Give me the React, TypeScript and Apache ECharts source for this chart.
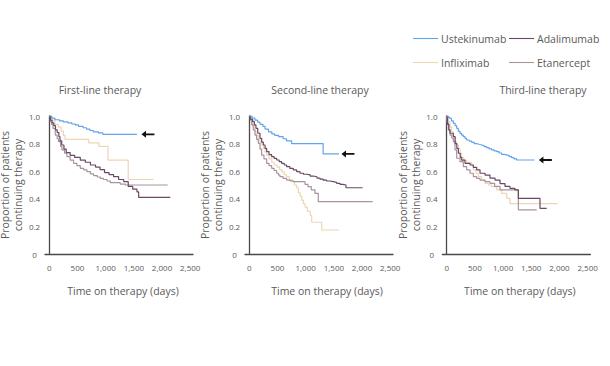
import React, { useEffect, useRef } from "react";
import * as echarts from "echarts";

// ---------- data (days, proportion continuing) ----------
const PANEL_TITLES = ["First-line therapy", "Second-line therapy", "Third-line therapy"];
const DRUGS = ["Ustekinumab", "Adalimumab", "Infliximab", "Etanercept"];
const DAY_TICKS = [0, 500, 1000, 1500, 2000, 2500];
const ARROW_DAY = 1750;

const firstUst = [[0,1],[40,0.985],[100,0.973],[180,0.965],[250,0.957],[330,0.95],[400,0.942],[460,0.935],[520,0.925],[600,0.915],[660,0.905],[720,0.895],[780,0.885],[870,0.877],[950,0.867],[1555,0.867]];
const firstAda = [[0,1],[20,0.97],[50,0.95],[80,0.93],[110,0.9],[140,0.88],[170,0.85],[190,0.82],[220,0.79],[260,0.76],[300,0.735],[370,0.715],[450,0.7],[550,0.68],[640,0.665],[730,0.645],[820,0.63],[900,0.612],[980,0.59],[1060,0.575],[1140,0.56],[1230,0.54],[1320,0.525],[1400,0.49],[1480,0.47],[1555,0.45],[1585,0.41],[2146,0.41]];
const firstInf = [[0,1],[50,0.97],[100,0.94],[160,0.92],[210,0.89],[250,0.86],[280,0.83],[700,0.805],[880,0.78],[1040,0.68],[1400,0.54],[1850,0.54]];
const firstEta = [[0,1],[20,0.96],[40,0.94],[65,0.91],[106,0.862],[140,0.835],[165,0.814],[200,0.78],[225,0.754],[270,0.73],[313,0.705],[370,0.68],[431,0.657],[490,0.64],[550,0.621],[610,0.61],[668,0.597],[730,0.58],[786,0.568],[850,0.558],[905,0.548],[960,0.54],[1023,0.529],[1082,0.517],[1259,0.507],[1350,0.5],[2100,0.5]];

const secondUst = [[0,1],[50,0.985],[100,0.97],[150,0.955],[190,0.94],[240,0.925],[280,0.905],[340,0.885],[400,0.87],[450,0.86],[520,0.85],[600,0.835],[660,0.82],[750,0.8],[1310,0.725],[1590,0.725]];
const secondAda = [[0,1],[25,0.975],[59,0.959],[90,0.935],[118,0.911],[150,0.875],[190,0.838],[220,0.81],[249,0.79],[280,0.765],[308,0.742],[350,0.72],[397,0.705],[440,0.693],[485,0.681],[530,0.67],[574,0.657],[620,0.645],[663,0.633],[720,0.62],[781,0.609],[840,0.597],[899,0.585],[960,0.578],[1017,0.573],[1080,0.565],[1136,0.56],[1200,0.55],[1254,0.543],[1310,0.535],[1372,0.529],[1430,0.524],[1490,0.519],[1550,0.512],[1609,0.505],[1660,0.5],[1715,0.48],[2011,0.48]];
const secondInf = [[0,1],[30,0.96],[60,0.93],[90,0.89],[120,0.86],[160,0.83],[190,0.81],[220,0.79],[250,0.765],[280,0.74],[310,0.715],[350,0.69],[400,0.665],[440,0.645],[490,0.63],[540,0.61],[580,0.595],[620,0.575],[660,0.56],[710,0.54],[760,0.525],[800,0.5],[840,0.48],[870,0.445],[900,0.42],[930,0.39],[960,0.365],[990,0.34],[1030,0.31],[1080,0.28],[1107,0.23],[1284,0.174],[1590,0.174]];
const secondEta = [[0,1],[20,0.97],[42,0.935],[70,0.9],[101,0.862],[130,0.83],[160,0.802],[190,0.76],[219,0.717],[260,0.69],[308,0.657],[350,0.64],[397,0.621],[440,0.605],[485,0.585],[520,0.572],[544,0.56],[600,0.548],[663,0.536],[720,0.53],[781,0.524],[988,0.505],[1040,0.488],[1100,0.465],[1165,0.44],[1224,0.379],[2188,0.379]];

const thirdUst = [[0,1],[30,0.99],[54,0.983],[85,0.965],[118,0.947],[150,0.93],[177,0.911],[205,0.89],[236,0.874],[265,0.862],[295,0.85],[325,0.838],[354,0.826],[400,0.818],[443,0.809],[490,0.8],[532,0.795],[575,0.79],[620,0.785],[665,0.778],[709,0.771],[750,0.762],[798,0.754],[840,0.748],[886,0.742],[930,0.732],[975,0.722],[1020,0.718],[1064,0.713],[1110,0.705],[1152,0.698],[1195,0.69],[1241,0.681],[1560,0.681]];
const thirdAda = [[0,1],[15,0.94],[40,0.9],[59,0.875],[118,0.85],[150,0.8],[180,0.765],[207,0.73],[240,0.7],[266,0.68],[325,0.657],[414,0.645],[473,0.628],[532,0.61],[591,0.585],[680,0.572],[768,0.55],[857,0.536],[946,0.51],[1034,0.49],[1123,0.476],[1211,0.464],[1271,0.403],[1655,0.331],[1774,0.331]];
const thirdInf = [[0,1],[30,0.96],[60,0.92],[88,0.886],[118,0.85],[147,0.814],[177,0.79],[207,0.766],[236,0.73],[266,0.7],[300,0.68],[354,0.66],[443,0.645],[473,0.61],[520,0.585],[561,0.56],[620,0.535],[680,0.512],[740,0.5],[798,0.488],[887,0.464],[975,0.44],[1064,0.403],[1123,0.365],[1965,0.365]];
const thirdEta = [[0,1],[10,0.95],[30,0.9],[59,0.862],[90,0.84],[118,0.814],[147,0.754],[177,0.694],[236,0.669],[295,0.633],[355,0.609],[414,0.585],[473,0.56],[532,0.548],[591,0.536],[680,0.524],[768,0.512],[850,0.49],[946,0.464],[1271,0.32],[1597,0.32]];

const PANELS = [
  { Ustekinumab: firstUst, Adalimumab: firstAda, Infliximab: firstInf, Etanercept: firstEta },
  { Ustekinumab: secondUst, Adalimumab: secondAda, Infliximab: secondInf, Etanercept: secondEta },
  { Ustekinumab: thirdUst, Adalimumab: thirdAda, Infliximab: thirdInf, Etanercept: thirdEta },
];

// ---------- styling ----------
const COLORS: Record<string, string> = {
  Ustekinumab: "#62a4ec",
  Adalimumab: "#6a4866",
  Infliximab: "#ecd6b6",
  Etanercept: "#a7949f",
};
const TEXT = "#5a5a5a";
const AXIS = "#4a4a4a";
const FONT = "'Open Sans', sans-serif";
const GRID_LEFTS = [45, 245, 442.4];
const TITLE_X = [100, 320, 543];
const XNAME_PAD = [8, 16, 7];
const ARROW = "path://M0,5L7,0L7,3.7L20,3.7L20,6.3L7,6.3L7,10Z";

export default function App() {
  const ref = useRef<HTMLDivElement>(null);
  useEffect(() => {
    if (!ref.current) return;
    const chart = echarts.init(ref.current, undefined, { renderer: "svg" });

    const grids = GRID_LEFTS.map((l) => ({
      left: l,
      top: 116,
      width: 148,
      height: 138,
      containLabel: false,
      outerBoundsMode: "none",
    }));
    const xAxes = GRID_LEFTS.map((_, i) => ({
      type: "value",
      gridIndex: i,
      min: -76,
      max: 2549,
      name: "Time on therapy (days)",
      nameLocation: "middle",
      nameGap: 31,
      nameTextStyle: { color: TEXT, fontSize: 10.5, fontFamily: FONT, padding: [0, 0, 0, XNAME_PAD[i]] },
      axisLine: { show: true, lineStyle: { color: AXIS, width: 1.3 } },
      axisTick: { show: false },
      splitLine: { show: false },
      axisLabel: {
        customValues: DAY_TICKS,
        color: TEXT,
        fontSize: 8,
        fontFamily: FONT,
        margin: 9,
        formatter: (v: number) => v.toLocaleString("en-US"),
      },
    }));
    const yAxes = GRID_LEFTS.map((_, i) => ({
      type: "value",
      gridIndex: i,
      min: 0,
      max: 1,
      interval: 0.2,
      name: "Proportion of patients\ncontinuing therapy",
      nameLocation: "middle",
      nameGap: 14,
      nameTextStyle: { color: TEXT, fontSize: 10.5, lineHeight: 13, fontFamily: FONT },
      axisLine: { show: true, onZero: true, lineStyle: { color: AXIS, width: 1.3 } },
      axisTick: { show: false },
      splitLine: { show: false },
      axisLabel: {
        color: TEXT,
        fontSize: 8,
        fontFamily: FONT,
        align: "center",
        margin: 10.5,
        formatter: (v: number) => (v === 0 ? "0" : v.toFixed(1)),
      },
    }));

    const order = ["Infliximab", "Etanercept", "Adalimumab", "Ustekinumab"];
    const series: any[] = [];
    PANELS.forEach((panel, i) => {
      order.forEach((name) => {
        const data = (panel as any)[name] as number[][];
        const s: any = {
          type: "line",
          name,
          xAxisIndex: i,
          yAxisIndex: i,
          data,
          step: "end",
          symbol: "none",
          lineStyle: { color: COLORS[name], width: 1.2 },
          itemStyle: { color: COLORS[name] },
        };
        if (name === "Ustekinumab") {
          s.markPoint = {
            symbol: ARROW,
            symbolSize: [13, 7],
            itemStyle: { color: "#111" },
            label: { show: false },
            data: [{ coord: [ARROW_DAY, data[data.length - 1][1]] }],
          };
        }
        series.push(s);
      });
    });

    const legendPos = [
      [413, 33],
      [509, 33],
      [413, 57],
      [509, 57],
    ];
    const legends = DRUGS.map((d, k) => ({
      padding: 0,
      itemWidth: 25,
      itemHeight: 1.1,
      icon: "rect",
      textStyle: { color: TEXT, fontSize: 10.5, fontFamily: FONT, padding: [0, 0, 0, -2] },
      data: [d],
      left: legendPos[k][0],
      top: legendPos[k][1],
    }));

    chart.setOption({
      animation: false,
      backgroundColor: "#fff",
      grid: grids,
      xAxis: xAxes,
      yAxis: yAxes,
      legend: legends,
      series,
      graphic: PANEL_TITLES.map((t, i) => ({
        type: "text",
        x: TITLE_X[i],
        y: 90,
        style: {
          text: t,
          fill: TEXT,
          font: `10.5px ${FONT}`,
          align: "center",
          verticalAlign: "middle",
        },
      })),
    });
    return () => chart.dispose();
  }, []);
  return (
    <div
      ref={ref}
      style={{ position: "fixed", left: 0, top: 0, width: 610, height: 366 }}
    />
  );
}
